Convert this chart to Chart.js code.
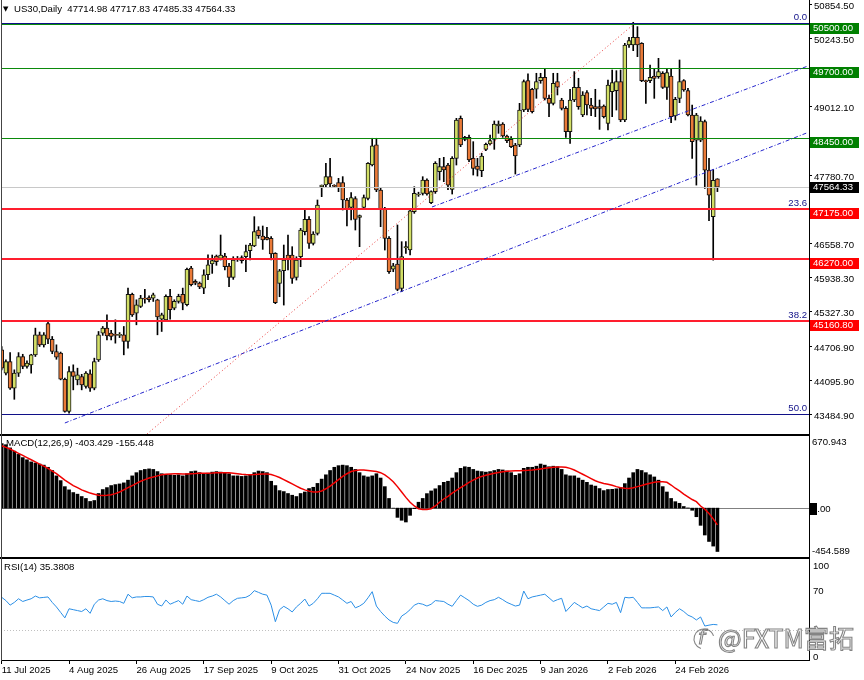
<!DOCTYPE html>
<html>
<head>
<meta charset="utf-8">
<script src="https://cdn.jsdelivr.net/npm/chart.js@4/dist/chart.umd.min.js"></script>
<style>
  html, body { margin: 0; padding: 0; background: #fff; }
  #wrap { position: relative; width: 864px; height: 680px; overflow: hidden; }
  canvas { position: absolute; left: 0; }
  #price { top: 0; }
  #macd { top: 436px; }
  #rsi { top: 558px; }
  .sep { position: absolute; left: 0; width: 810px; background: #000; }
  .edge { position: absolute; left: 1px; top: 0; width: 1px; height: 661px; background: #444; }
</style>
</head>
<body>
<div id="wrap">
  <canvas id="price" width="864" height="434"></canvas>
  <canvas id="macd" width="864" height="121"></canvas>
  <canvas id="rsi" width="864" height="122"></canvas>
  <div class="sep" style="top:434px;height:2px"></div>
  <div class="sep" style="top:557px;height:2px"></div>
  <div class="edge"></div>
</div>
<script>
// US30 daily candles, 11 Jul 2025 .. Mar 2026
const opens = [
  44640,44220,44430,43950,44220,44520,44340,44370,44550,44910,
  44730,45110,44830,44610,44580,44110,43530,44250,44100,44160,
  43980,44210,43950,44460,44940,45030,44940,44910,44900,44910,
  44790,45640,45300,45420,45570,45580,45570,45540,45190,45180,
  45600,45390,45510,45640,45450,46110,45870,45840,45750,45990,
  46183,46327,46285,46327,46147,45943,46265,46243,46315,46423,
  46507,46795,46687,46663,46645,46375,45835,46063,46345,46345,
  45943,46315,46765,46987,46555,46735,47575,47605,47755,47599,
  47647,47647,47335,47203,47359,47023,47203,47365,47965,48325,
  47515,47185,46645,46090,46183,45745,46475,46435,47124,47425,
  47454,47694,47286,47484,47844,47934,47964,47526,48084,48804,
  48462,48462,48084,47946,47862,48246,48342,48426,48666,48702,
  48486,48426,48324,48324,48954,49482,49326,49326,49482,49542,
  49164,49074,49464,49134,48984,48564,49134,49362,48864,49266,
  49044,49014,49013,49025,48713,49283,49301,49463,48773,50123,
  50123,50261,50153,49481,49481,49565,49553,49613,49361,49565,
  48845,49163,49481,49301,48863,48413,48413,48743,47873,47033,
  47714.98
];
const highs = [
  44700,44460,44590,44280,44590,44560,44440,44560,45030,44960,
  44950,45150,44880,44730,44600,44130,44340,44370,44310,44200,
  44250,44280,44490,44970,45060,45270,44990,45180,44950,45060,
  45750,45660,45540,45620,45730,45610,45660,45550,45300,45630,
  45730,45540,45640,45750,46110,46140,45900,45860,46080,46350,
  46345,46345,46705,46375,46195,46315,46320,46330,46525,46555,
  47035,46855,46867,46843,46675,46387,46087,46525,46705,46495,
  46315,46825,47185,47035,46765,47335,47605,47995,48085,47610,
  47725,47755,47365,47467,47395,47065,47425,48007,48445,48445,
  47545,47203,46675,46195,46885,46585,46585,47185,47574,47475,
  47754,47715,47500,48024,48084,48102,47994,48114,48804,48846,
  48480,48504,48384,48084,48174,48360,48504,48756,48756,48726,
  48504,48474,48354,49074,49494,49602,49344,49614,49614,49692,
  49224,49614,49614,49164,49014,49326,49644,49524,49284,49302,
  49164,49326,49133,49045,49493,49673,49661,49673,50153,50261,
  50531,50453,50165,49493,49763,49703,49883,49643,49703,49703,
  49181,49853,49500,49343,49043,48893,48833,48773,48083,47885,
  47717.83
];
const lows = [
  44280,44190,43930,43750,44160,44300,44310,44220,44520,44700,
  44690,44750,44570,44470,44100,43520,43500,43920,44010,43920,
  43950,43890,43920,44430,44900,44820,44820,44760,44860,44550,
  44670,45240,45090,45400,45480,45500,45510,44910,44970,45150,
  45190,45360,45480,45360,45430,45790,45810,45740,45650,45900,
  46015,46160,46255,46075,45775,45907,46230,46200,46045,46255,
  46495,46645,46447,46615,46255,45470,45595,45445,46075,45835,
  45895,46135,46705,46465,46525,46705,47395,47575,47575,47570,
  47485,47155,46867,46975,46795,46495,47167,47335,47947,47485,
  46855,46435,46015,46045,45703,45685,46375,46345,47095,47400,
  47424,47420,47270,47454,47694,47664,47520,47442,47964,48294,
  48400,48024,47784,47766,47754,48220,48324,48246,48534,48462,
  48366,48276,47802,48294,48924,48924,48900,49164,49434,49134,
  48834,49044,49224,48954,48462,48354,49104,48966,48834,48864,
  48852,48834,48605,48810,48593,48833,48953,48743,48743,50080,
  50021,49913,49463,49073,49445,49163,49523,49340,49145,48725,
  48773,49085,49290,48845,48083,47603,48383,47543,46961,46253,
  47485.33
];
const closes = [
  44310,44430,43950,44220,44520,44340,44400,44550,44910,44730,
  44910,44830,44610,44510,44110,43530,44250,44160,44190,44010,
  44220,43950,44430,44910,45030,44890,44880,44900,44920,44790,
  45640,45270,45450,45570,45550,45540,45630,45230,45270,45600,
  45360,45510,45600,45480,46090,45810,45840,45770,45990,46170,
  46243,46225,46345,46135,45943,46255,46285,46297,46405,46525,
  46765,46693,46615,46627,46363,45487,46063,46255,46255,45925,
  46255,46795,46987,46555,46723,47245,47605,47755,47623,47580,
  47557,47335,47167,47377,46987,47053,47377,47995,48307,47515,
  47167,46645,46045,46150,45727,46315,46495,47140,47454,47440,
  47694,47442,47484,47994,47934,47874,47600,48084,48774,48324,
  48426,48054,47904,47886,48126,48336,48402,48702,48702,48486,
  48402,48294,48126,48954,49464,48966,48924,49464,49542,49164,
  49074,49434,49362,48984,48564,49134,49362,49014,49224,49044,
  48984,48972,48983,48833,49403,49445,49463,48773,50123,50201,
  50261,50123,49481,49463,49541,49523,49643,49361,49625,48833,
  49145,49463,49313,48863,48383,48863,48755,47873,47423,47690,
  47564.33
];

// MACD(12,26,9): main line (histogram) and signal line
const macd = [
  600,590,560,530,500,470,450,430,420,410,
  400,380,350,300,256,200,170,145,130,108,
  90,62,71,136,173,191,210,219,225,235,
  260,300,330,350,360,365,360,340,320,315,
  310,305,310,300,320,340,345,330,320,325,
  335,340,335,330,320,300,300,295,300,310,
  330,345,340,330,250,210,163,154,136,120,
  108,136,150,182,194,230,270,310,350,380,
  395,400,395,380,360,330,300,290,300,320,
  280,200,90,0,-86,-113,-129,-67,-5,55,
  90,135,160,180,210,240,250,280,330,370,
  385,380,360,345,340,335,340,350,360,355,
  345,330,305,320,370,380,380,390,410,400,
  385,390,385,360,310,300,300,280,260,240,
  215,205,182,163,173,175,180,191,228,280,
  330,360,350,330,310,290,260,200,150,90,
  60,45,15,2,-20,-80,-160,-250,-310,-353,
  -403.429
];
const signal = [
  580,565,550,530,510,490,470,450,430,410,
  390,370,345,320,290,260,235,210,190,170,
  155,140,130,120,118,120,125,135,150,170,
  190,210,230,250,265,280,290,300,310,315,
  318,320,320,318,318,320,322,325,325,325,
  327,330,330,330,328,325,320,315,312,310,
  312,315,318,318,312,300,285,265,245,225,
  205,185,170,158,150,150,160,180,205,235,
  265,295,320,340,350,355,355,350,345,340,
  330,310,280,245,200,150,100,55,20,-5,
  -12,-12,-5,20,55,85,110,140,165,190,
  215,240,260,280,295,305,315,325,332,338,
  342,345,347,348,350,352,355,360,365,370,
  375,380,382,383,380,370,355,335,315,295,
  275,255,240,230,222,212,200,190,184,182,
  190,200,210,222,232,240,245,245,240,215,
  185,160,130,105,80,60,20,-10,-50,-100,
  -155.448
];
// RSI(14)
const rsi = [
  65.6,62,57,60,64,61,62.6,64,67,65,
  65.5,66,60,55,49,43,53,52,51,50,
  53,48,58,62.6,64,62,61,61.5,61,59,
  69,65,66,66,66.5,66.5,66,58,56,62.6,
  58,60,62,58,67,63,62,61,63,65.6,
  67,69,66,62,58,62,64.5,65,65.6,68,
  72.9,71,69,68,57,38.8,52,55.7,53,49.5,
  55,59,63.7,56,59,64,70,70,70,68,
  66,62.6,59,61,54,56,59,65,71.8,56,
  50,45,40.7,38,37,45,48,52,57,59,
  58,56,58,62,61.5,61,58,55.7,62,68,
  65,62,58,55.7,57,60,62,63,65.6,63,
  60,58,56,57,72.5,64,66,67,68,69,
  65,61,63,64.5,50,55,60,57,54,56,
  53,52,51,55,59,58,60,48.7,65.6,65,
  65.6,60,54,54,54,54.5,55,51,55,44,
  49,53,50,46,44,40.7,44,34,35,35.8,
  35.3808
];

// axis labels
const dateLabels = ['11 Jul 2025','4 Aug 2025','26 Aug 2025','17 Sep 2025','9 Oct 2025','31 Oct 2025',
                    '24 Nov 2025','16 Dec 2025','9 Jan 2026','2 Feb 2026','24 Feb 2026'];
const barsPerLabel = 16;
const priceTicks = [50854.5, 50243.5, 49012.1, 47780.7, 46558.7, 45938.3, 45327.3, 44706.9, 44095.9, 43484.9];
const macdTicks = [670.943, 0, -454.589];
const rsiTicks = [100, 70, 0];

// chart objects: horizontal levels, fibo, trend lines
const levelPrices = [50500, 49700, 48450, 47175, 46270, 45160.8];
const levelKinds = ['g', 'g', 'g', 'r', 'r', 'r'];
const fibNames = ['0.0', '23.6', '38.2', '50.0'];
const fibPrices = [50513, 47175, 45160.8, 43484.9];
const trendFrom = [[15.0, 43324], [102.2, 47209], [34.5, 43126]];
const trendTo = [[191.5, 48549], [191.5, 49745], [150.2, 50500]];
const trendKinds = ['blue', 'blue', 'red'];

const n = closes.length;
const last = n - 1;
const bidPrice = closes[last];
const idx = closes.map((_, i) => i);

const FONT = '9.6px "Liberation Sans", Arial, sans-serif';
const BULL = '#d2df66';
const BEAR = '#ea7a38';
const GREEN = '#0b8a0b';
const RED = '#ff1e2e';
const NAVY = '#101088';

const xMin = -0.166, xMax = 191.75;

function rightAxis(s) {
    s.width = 55;
    s.paddingTop = 0;
    s.paddingBottom = 0;
}

function hline(ctx, a, py, color, w, dash) {
    const yy = w % 2 ? Math.round(py) + 0.5 : Math.round(py);
    ctx.strokeStyle = color;
    ctx.lineWidth = w;
    ctx.setLineDash(dash || []);
    ctx.beginPath();
    ctx.moveTo(a.left, yy);
    ctx.lineTo(a.right, yy);
    ctx.stroke();
}

// draws the MT4 objects on the price window
const priceObjects = {
    id: 'priceObjects',
    afterDatasetsDraw(chart) {
        const { ctx, chartArea: a, scales: { x, y } } = chart;
        ctx.save();
        ctx.beginPath();
        ctx.rect(a.left, a.top, a.right - a.left, a.bottom - a.top);
        ctx.clip();
        hline(ctx, a, y.getPixelForValue(bidPrice), '#c8c8c8', 1);
        fibPrices.forEach(p => hline(ctx, a, y.getPixelForValue(p), NAVY, 1));
        levelPrices.forEach((p, k) => {
            if (levelKinds[k] === 'g') hline(ctx, a, y.getPixelForValue(p), GREEN, 1);
            else hline(ctx, a, y.getPixelForValue(p), RED, 2);
        });
        trendFrom.forEach((f, k) => {
            const t = trendTo[k];
            ctx.strokeStyle = trendKinds[k] === 'blue' ? '#2424cc' : '#e83a3a';
            ctx.setLineDash(trendKinds[k] === 'blue' ? [4, 2, 1, 2] : [1, 2.5]);
            ctx.lineWidth = 1;
            ctx.beginPath();
            ctx.moveTo(x.getPixelForValue(f[0]), y.getPixelForValue(f[1]));
            ctx.lineTo(x.getPixelForValue(t[0]), y.getPixelForValue(t[1]));
            ctx.stroke();
        });
        ctx.setLineDash([]);
        // fibo level captions
        ctx.font = FONT;
        ctx.fillStyle = NAVY;
        ctx.textAlign = 'right';
        ctx.textBaseline = 'alphabetic';
        fibPrices.forEach((p, k) => {
            ctx.fillText(fibNames[k], a.right - 2, y.getPixelForValue(p) - 3);
        });
        ctx.restore();
    },
    afterDraw(chart) {
        const { ctx, chartArea: a, scales: { y } } = chart;
        ctx.save();
        ctx.font = FONT;
        ctx.textBaseline = 'middle';
        ctx.textAlign = 'left';
        // price boxes on the right scale
        levelPrices.forEach((p, k) => {
            const py = y.getPixelForValue(p);
            ctx.fillStyle = levelKinds[k] === 'g' ? '#008000' : '#ff0000';
            ctx.fillRect(a.right + 1, Math.round(py) - 1, 49, 11);
            ctx.fillStyle = '#fff';
            ctx.fillText(p.toFixed(2), a.right + 4, Math.round(py) + 4.5);
        });
        const pb = y.getPixelForValue(bidPrice);
        ctx.fillStyle = '#000';
        ctx.fillRect(a.right + 1, Math.round(pb) - 5, 49, 11);
        ctx.fillStyle = '#fff';
        ctx.fillText(bidPrice.toFixed(2), a.right + 4, Math.round(pb) + 0.5);
        // title
        ctx.fillStyle = '#000';
        ctx.font = '7px "DejaVu Sans", sans-serif';
        ctx.fillText('▼', 3, 9);
        ctx.font = FONT;
        ctx.fillText('US30,Daily  ' + [opens[last], highs[last], lows[last], closes[last]].map(v => v.toFixed(2)).join(' '), 14, 9.5);
        ctx.restore();
    }
};

new Chart(document.getElementById('price'), {
    type: 'bar',
    data: {
        datasets: [
            {
                label: 'wick',
                data: idx.map(i => ({ x: i, y: [lows[i], highs[i]] })),
                backgroundColor: '#000',
                barThickness: 1,
                grouped: false,
                order: 2
            },
            {
                label: 'body',
                data: idx.map(i => ({ x: i, y: [opens[i], closes[i]] })),
                backgroundColor: c => closes[c.dataIndex] >= opens[c.dataIndex] ? BULL : BEAR,
                borderColor: '#111',
                borderWidth: 1,
                borderSkipped: false,
                barThickness: 4,
                minBarLength: 1,
                grouped: false,
                order: 1
            }
        ]
    },
    options: {
        responsive: false,
        animation: false,
        events: [],
        layout: { padding: { left: 1, top: 0, right: 0, bottom: 0 } },
        plugins: { legend: { display: false }, tooltip: { enabled: false } },
        scales: {
            x: { type: 'linear', min: xMin, max: xMax, offset: false, display: false },
            y: {
                position: 'right',
                min: 43126,
                max: 50932,
                afterFit: rightAxis,
                afterBuildTicks: s => { s.ticks = priceTicks.map(v => ({ value: v })); },
                ticks: {
                    callback: v => Number(v).toFixed(2),
                    font: { family: 'Liberation Sans', size: 9.6 },
                    color: '#000',
                    padding: 2,
                    labelOffset: 2,
                    autoSkip: false
                },
                grid: { display: true, drawOnChartArea: false, tickLength: 3, color: '#000' },
                border: { display: true, color: '#000' }
            }
        }
    },
    plugins: [priceObjects]
});

// MACD window
const macdDecor = {
    id: 'macdDecor',
    beforeDatasetsDraw(chart) {
        const { ctx, chartArea: a, scales: { y } } = chart;
        ctx.save();
        hline(ctx, a, y.getPixelForValue(0), '#808080', 1);
        ctx.restore();
    },
    afterDraw(chart) {
        const { ctx, chartArea: a, scales: { y } } = chart;
        ctx.save();
        ctx.font = FONT;
        ctx.textBaseline = 'middle';
        ctx.fillStyle = '#000';
        ctx.fillText('MACD(12,26,9) ' + macd[last].toFixed(3) + ' ' + signal[last].toFixed(3), 6, 7.5);
        const shift = [6, 1, -6];
        macdTicks.forEach((v, k) => {
            const py = y.getPixelForValue(v) + shift[k];
            if (v === 0) {
                ctx.fillStyle = '#000';
                ctx.fillRect(a.right + 1, Math.round(py) - 6, 7, 12);
            }
            ctx.fillStyle = '#000';
            ctx.fillText(v === 0 ? '0.00' : String(v), a.right + 3, py);
        });
        ctx.restore();
    }
};

new Chart(document.getElementById('macd'), {
    data: {
        datasets: [
            {
                type: 'line',
                data: idx.map(i => ({ x: i, y: signal[i] })),
                borderColor: '#f00000',
                borderWidth: 1.5,
                pointRadius: 0,
                tension: 0,
                order: 0
            },
            {
                type: 'bar',
                data: idx.map(i => ({ x: i, y: macd[i] })),
                backgroundColor: '#000',
                barThickness: 3,
                grouped: false,
                order: 1
            }
        ]
    },
    options: {
        responsive: false,
        animation: false,
        events: [],
        layout: { padding: { left: 1, top: 0, right: 0, bottom: 0 } },
        plugins: { legend: { display: false }, tooltip: { enabled: false } },
        scales: {
            x: { type: 'linear', min: xMin, max: xMax, offset: false, display: false },
            y: {
                position: 'right',
                min: -454.589,
                max: 670.943,
                afterFit: rightAxis,
                ticks: { display: false },
                grid: { display: false },
                border: { display: true, color: '#000' }
            }
        }
    },
    plugins: [macdDecor]
});

// RSI window with the date axis
const rsiDecor = {
    id: 'rsiDecor',
    beforeDatasetsDraw(chart) {
        const { ctx, chartArea: a, scales: { y } } = chart;
        ctx.save();
        hline(ctx, a, y.getPixelForValue(30), '#c0c0c0', 1, [1, 2]);
        ctx.restore();
    },
    afterDraw(chart) {
        const { ctx, chartArea: a, scales: { y } } = chart;
        ctx.save();
        ctx.font = FONT;
        ctx.textBaseline = 'middle';
        ctx.fillStyle = '#000';
        ctx.fillText('RSI(14) ' + rsi[last].toFixed(4), 4, 9);
        rsiTicks.forEach(v => {
            ctx.fillText(String(v), a.right + 4, y.getPixelForValue(v) - (v === 70 ? 2 : 0));
        });
        // watermark
        const txt = '@FXTM富拓';
        let size = 24;
        ctx.font = size + 'px "Noto Sans CJK SC", sans-serif';
        size = size * 136 / ctx.measureText(txt).width;
        ctx.font = size + 'px "Noto Sans CJK SC", sans-serif';
        ctx.textAlign = 'left';
        ctx.lineWidth = 1.1;
        ctx.fillStyle = 'rgba(255,255,255,0.75)';
        ctx.strokeStyle = 'rgba(110,110,110,0.85)';
        ctx.fillText(txt, 718, 80);
        ctx.strokeText(txt, 718, 80);
        ctx.beginPath();
        ctx.arc(704, 81, 10, 0.6 * Math.PI, 1.9 * Math.PI);
        ctx.stroke();
        ctx.font = 'italic 20px "DejaVu Sans", sans-serif';
        ctx.strokeText('f', 698, 81);
        ctx.restore();
    }
};

new Chart(document.getElementById('rsi'), {
    type: 'line',
    data: {
        datasets: [{
            data: idx.map(i => ({ x: i, y: rsi[i] })),
            borderColor: '#2b8fe6',
            borderWidth: 1,
            pointRadius: 0,
            tension: 0
        }]
    },
    options: {
        responsive: false,
        animation: false,
        events: [],
        layout: { padding: { left: 1, top: 1, right: 0, bottom: 0 } },
        plugins: { legend: { display: false }, tooltip: { enabled: false } },
        scales: {
            x: {
                type: 'linear',
                min: xMin,
                max: xMax,
                offset: false,
                afterBuildTicks: s => { s.ticks = dateLabels.map((_, k) => ({ value: k * barsPerLabel })); },
                afterFit: s => { s.height = 20; s.paddingLeft = 0; s.paddingRight = 0; },
                ticks: {
                    callback: (v, k) => dateLabels[k],
                    align: 'start',
                    autoSkip: false,
                    maxRotation: 0,
                    padding: 1,
                    font: { family: 'Liberation Sans', size: 9.6 },
                    color: '#000'
                },
                grid: { display: true, drawOnChartArea: false, tickLength: 4, color: '#000' },
                border: { display: true, color: '#000' }
            },
            y: {
                position: 'right',
                min: -3.3,
                max: 107.7,
                afterFit: rightAxis,
                ticks: { display: false },
                grid: { display: false },
                border: { display: true, color: '#000' }
            }
        }
    },
    plugins: [rsiDecor]
});
</script>
</body>
</html>
